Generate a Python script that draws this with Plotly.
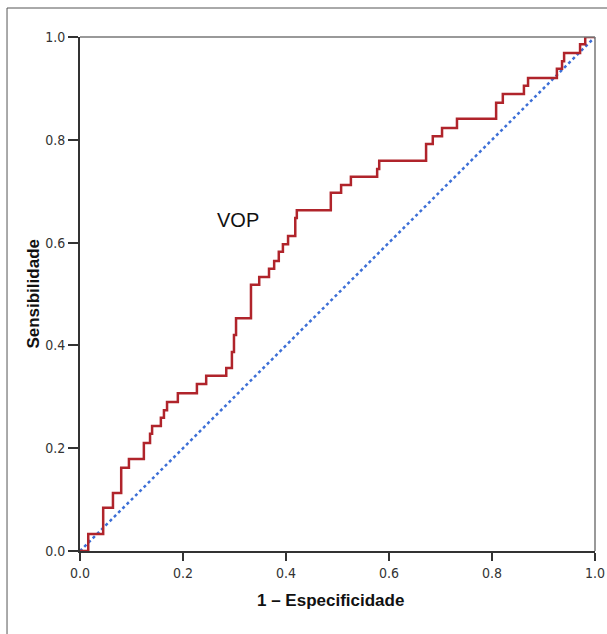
import plotly.graph_objects as go

# ROC curve step corners (1 - specificity, sensitivity), drawn with 'hv' steps
fpr = [0.0, 0.016, 0.045, 0.064, 0.080, 0.095, 0.124, 0.136, 0.140, 0.157, 0.163,
       0.169, 0.190, 0.227, 0.245, 0.284, 0.295, 0.299, 0.303, 0.332, 0.348,
       0.367, 0.377, 0.386, 0.394, 0.404, 0.418, 0.421, 0.487, 0.507, 0.526,
       0.577, 0.581, 0.672, 0.685, 0.703, 0.732, 0.808, 0.821, 0.862, 0.870,
       0.926, 0.936, 0.940, 0.971, 0.981, 1.0]
tpr = [0.0, 0.033, 0.084, 0.113, 0.162, 0.179, 0.210, 0.228, 0.243, 0.259, 0.274,
       0.290, 0.307, 0.325, 0.341, 0.356, 0.387, 0.420, 0.453, 0.518, 0.533,
       0.549, 0.564, 0.582, 0.597, 0.613, 0.648, 0.663, 0.697, 0.712, 0.728,
       0.743, 0.759, 0.792, 0.807, 0.823, 0.841, 0.872, 0.889, 0.905, 0.920,
       0.938, 0.953, 0.969, 0.986, 1.0, 1.0]

ref_x = [0.0, 1.0]
ref_y = [0.0, 1.0]

tick_vals = [0.0, 0.2, 0.4, 0.6, 0.8, 1.0]
tick_text = ["0.0", "0.2", "0.4", "0.6", "0.8", "1.0"]

x_title = "1 – Especificidade"
y_title = "Sensibilidade"
curve_label = "VOP"
label_pos = (0.307, 0.644)

tick_font = dict(family="Liberation Sans Narrow, DejaVu Sans Condensed, Arial Narrow, sans-serif",
                 size=14, color="#333333")
title_font = dict(family="Liberation Sans, Arial, sans-serif", size=17, color="#111111")

fig = go.Figure()
fig.add_trace(go.Scatter(x=ref_x, y=ref_y, mode="lines",
                         line=dict(color="#3d6fd6", width=2.5, dash="dot"),
                         hoverinfo="skip", showlegend=False))
fig.add_trace(go.Scatter(x=fpr, y=tpr, mode="lines", line_shape="hv",
                         line=dict(color="#b0242b", width=2.5),
                         showlegend=False))

fig.update_layout(
    width=607, height=634, autosize=False,
    margin=dict(l=80, r=12, t=37, b=83),
    paper_bgcolor="white", plot_bgcolor="white",
    showlegend=False,
)
fig.update_xaxes(range=[0, 1], tickvals=tick_vals, ticktext=tick_text,
                 showgrid=False, zeroline=False, showline=True, automargin=False,
                 linecolor="#333333", linewidth=2, ticks="outside",
                 ticklen=8, tickwidth=2, tickcolor="#333333",
                 tickfont=tick_font)
fig.update_yaxes(range=[0, 1], tickvals=tick_vals, ticktext=tick_text,
                 showgrid=False, zeroline=False, showline=True, automargin=False,
                 linecolor="#333333", linewidth=2, ticks="outside",
                 ticklen=10, tickwidth=2, tickcolor="#333333",
                 tickfont=tick_font)

# top / right frame of the plot area
fig.add_shape(type="line", xref="paper", yref="paper", x0=0, x1=1, y0=1, y1=1,
              line=dict(color="#777777", width=1.5))
fig.add_shape(type="line", xref="paper", yref="paper", x0=1, x1=1, y0=0, y1=1,
              line=dict(color="#777777", width=1.5))
# outer image frame (left and top edges only visible)
fig.add_shape(type="line", xref="paper", yref="paper",
              x0=-0.1417, x1=-0.1417, y0=-0.2, y1=1.0564,
              line=dict(color="#555555", width=1), layer="below")
fig.add_shape(type="line", xref="paper", yref="paper",
              x0=-0.1417, x1=1.1, y0=1.0564, y1=1.0564,
              line=dict(color="#555555", width=1), layer="below")

fig.add_annotation(x=label_pos[0], y=label_pos[1], xref="x", yref="y",
                   text=curve_label, showarrow=False,
                   font=dict(family="Liberation Sans, Arial, sans-serif", size=20, color="#111111"))
fig.add_annotation(x=0.487, y=-0.097, xref="paper", yref="paper", text="<b>%s</b>" % x_title,
                   showarrow=False, font=title_font, yanchor="middle")
fig.add_annotation(x=-0.092, y=0.5, xref="paper", yref="paper", text="<b>%s</b>" % y_title,
                   showarrow=False, font=title_font, textangle=-90, xanchor="center")

fig.write_html("out.html",
               config={"responsive": False, "displayModeBar": False},
               post_script="document.body.style.margin='0';document.body.style.overflow='hidden';")
